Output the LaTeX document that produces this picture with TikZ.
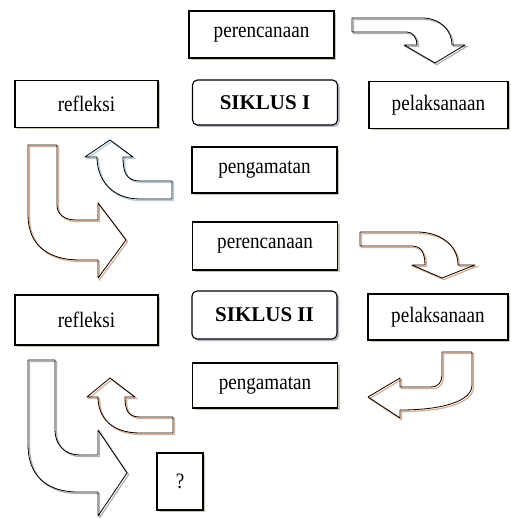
\documentclass[tikz,border=0pt]{standalone}
\usepackage{fontspec}
\usetikzlibrary{shadows}
\newfontfamily\tkfont[FakeStretch=0.87]{Liberation Serif}
\newfontfamily\tkbold{Liberation Serif Bold}
\definecolor{bayanghijau}{RGB}{196,200,180}
\definecolor{bayangungu}{RGB}{190,188,205}
\definecolor{bayangtan}{RGB}{222,172,140}
\definecolor{bayangbiru}{RGB}{175,205,220}
\definecolor{bayangabu}{RGB}{175,175,175}
\tikzset{
  kotak/.style={draw, line width=1.1pt, fill=white, minimum width=145pt, minimum height=47pt,
    inner sep=0pt, font=\tkfont\fontsize{22}{24}\selectfont,
    drop shadow={shadow xshift=2pt, shadow yshift=-2pt, fill=bayanghijau, opacity=1}},
  siklus/.style={kotak, rounded corners=5pt, font=\tkbold\fontsize{21}{24}\selectfont,
    drop shadow={shadow xshift=2pt, shadow yshift=-2pt, fill=bayangungu, opacity=1}},
  panah/.style={draw=black, line width=0.8pt, line join=round,
    preaction={draw=#1, line width=1.2pt, transform canvas={xshift=1.6pt, yshift=-1.6pt}}}
}
\begin{document}
\begin{tikzpicture}[x=1pt,y=-1pt]
\useasboundingbox[fill=white] (0,0) rectangle (510,518);
% siklus I
\node[kotak] (per1) at (261.5,34.5) {perencanaan};
\node[siklus, minimum height=45pt] (sik1) at (265,102.5) {SIKLUS I};
\node[kotak, minimum width=139pt] (pel1) at (438.5,105) {pelaksanaan};
\node[kotak, minimum width=143pt] (ref1) at (86.5,104) {refleksi};
\node[kotak, minimum height=46pt] (peng1) at (264.5,170) {pengamatan};
% siklus II
\node[kotak, minimum height=48pt] (per2) at (265,246) {perencanaan};
\node[siklus, minimum height=48pt] (sik2) at (264.5,315) {SIKLUS II};
\node[kotak, minimum width=140pt, minimum height=46pt] (pel2) at (438,317) {pelaksanaan};
\node[kotak, minimum width=143pt, minimum height=50pt] (ref2) at (86.5,320) {refleksi};
\node[kotak, minimum height=45pt] (peng2) at (265,385.5) {pengamatan};
\node[kotak, minimum width=46pt, minimum height=57pt] (tanya) at (180,481.5) {?};
% panah
\draw[panah=bayangabu] (352,18) -- (422,18) .. controls (440,18) and (452,30) .. (452,45) -- (465,45) -- (435,63)
  -- (404,45) -- (417,45) .. controls (417,38) and (413,32) .. (407,32) -- (352,32) -- cycle;
\draw[panah=bayangbiru] (110,140) -- (133,157) -- (123,157) .. controls (123,172) and (126,181) .. (140,181) -- (172,181)
  -- (172,199) -- (140,199) .. controls (112,199) and (97,180) .. (97,157) -- (85,157) -- cycle;
\draw[panah=bayangtan] (28,145) -- (57,145) -- (57,205) .. controls (57,214) and (64,220) .. (76,220) -- (98,220) -- (98,203)
  -- (126,240) -- (98,278) -- (98,260) -- (80,260) .. controls (48,260) and (28,245) .. (28,215) -- cycle;
\draw[panah=bayangtan] (360,232) -- (417,232) .. controls (440,232) and (458,245) .. (458,265) -- (475,265) -- (442,278)
  -- (412,265) -- (425,265) .. controls (425,252) and (420,246) .. (413,246) -- (360,246) -- cycle;
\draw[panah=bayangtan] (442,352) -- (472,352) -- (472,385) .. controls (472,402) and (440,410) .. (400,410) -- (400,418)
  -- (368,397) -- (400,378) -- (400,387) -- (430,387) .. controls (439,387) and (442,382) .. (442,374) -- cycle;
\draw[panah=bayangtan] (110,378) -- (135,397) -- (125,397) .. controls (125,410) and (128,417) .. (140,417) -- (173,417)
  -- (173,433) -- (140,433) .. controls (112,433) and (98,418) .. (98,397) -- (87,397) -- cycle;
\draw[panah=bayangabu] (28,360) -- (55,360) -- (55,430) .. controls (55,445) and (65,455) .. (80,455) -- (98,455) -- (98,430)
  -- (127,473) -- (98,516) -- (98,492) -- (78,492) .. controls (46,492) and (28,475) .. (28,445) -- cycle;
\end{tikzpicture}
\end{document}
